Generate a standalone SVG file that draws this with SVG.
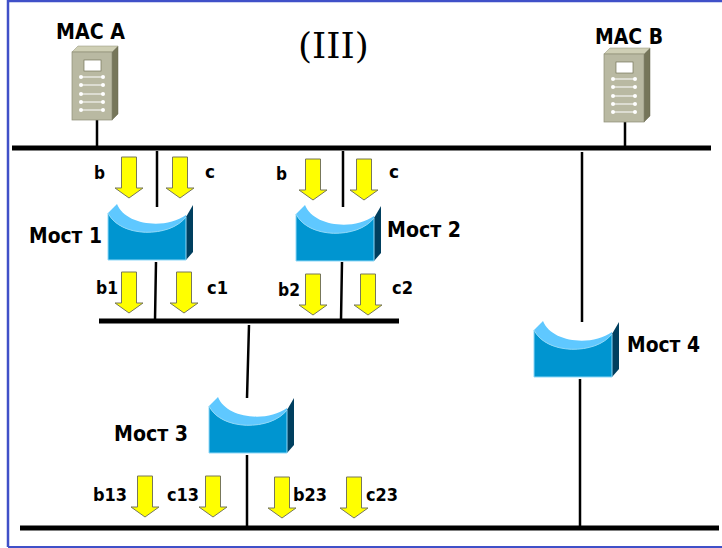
<svg xmlns="http://www.w3.org/2000/svg" width="722" height="548" viewBox="0 0 722 548">
<style>
.t{font-family:"DejaVu Sans",Verdana,sans-serif;font-weight:700;font-size:21px;fill:#000}
.s{font-size:18px}
.bus{stroke:#000;stroke-width:5;fill:none}
.w{stroke:#000;stroke-width:2.500;fill:none}
.a{fill:#ff0;stroke:#77775a;stroke-width:1}
</style>
<defs>
<path id="ar" class="a" d="M-7.500,0H7.500V31H14L0,41L-14,31H-7.500Z"/>
<g id="br">
<path d="M186,217L193,205V252L186,260Z" fill="#003f5f"/>
<path d="M108,213L117,204C125,225 165,230 186,215L186,217C170,238 120,238 108,213Z" fill="#5fc8ff"/>
<path d="M108,213C120,238 170,238 186,217V260H108Z" fill="#0095d0" stroke="#8fd8f8" stroke-width="1"/>
</g>
<g id="srv">
<path d="M40,6L46,0V68L40,74Z" fill="#76765a" stroke="#66664c" stroke-width="0.500"/>
<path d="M0,6L6,0H46L40,6Z" fill="#cfcfb5" stroke="#8e8e76" stroke-width="0.500"/>
<rect x="0" y="6" width="40" height="68" fill="#b9b9a2" stroke="#8e8e76" stroke-width="0.700"/>
<rect x="12" y="14" width="17" height="11" fill="#fff" stroke="#76765a" stroke-width="0.700"/>
<path d="M9,31H31M9,39H31M9,48H31M9,56H31M9,64H31" stroke="#fff" stroke-width="1.200" fill="none"/>
<g fill="#fff">
<circle cx="9" cy="31" r="2"/><circle cx="9" cy="39" r="2"/><circle cx="9" cy="48" r="2"/><circle cx="9" cy="56" r="2"/><circle cx="9" cy="64" r="2"/>
<circle cx="31" cy="31" r="2"/><circle cx="31" cy="39" r="2"/><circle cx="31" cy="48" r="2"/><circle cx="31" cy="56" r="2"/><circle cx="31" cy="64" r="2"/>
</g>
</g>
</defs>
<rect width="722" height="548" fill="#fff"/>
<path id="frame" d="M8,547V1H722" fill="none" stroke="#4050c8" stroke-width="2.500"/>
<path d="M8,547H722" fill="none" stroke="#4050c8" stroke-width="2"/>
<g id="connectors">
<path class="bus" d="M12,148H711M99,321H399M20,528H719"/>
<path class="w" d="M97,120V146M625,122V146M157,151V207M156,262L155,320M343,151V207M342,262L341,320M249,325L247,398M247,455V526M582,152V322M580,379V526"/>
</g>
<g id="mac-a"><use href="#srv" x="72" y="46"/><text class="t" x="56" y="39" textLength="69" lengthAdjust="spacingAndGlyphs">MAC A</text></g>
<g id="mac-b"><use href="#srv" x="604" y="48"/><text class="t" x="595" y="44" textLength="68" lengthAdjust="spacingAndGlyphs">MAC B</text></g>
<g id="title"><text x="298" y="57.500" font-family="'DejaVu Serif',serif" font-size="36">(III)</text></g>
<g id="bridge-1"><use href="#br"/><text class="t" x="29" y="243" textLength="73" lengthAdjust="spacingAndGlyphs">Мост 1</text></g>
<g id="bridge-2"><use href="#br" x="188" y="1"/><text class="t" x="387" y="237" textLength="74" lengthAdjust="spacingAndGlyphs">Мост 2</text></g>
<g id="bridge-3"><use href="#br" x="101" y="193"/><text class="t" x="114" y="441" textLength="74" lengthAdjust="spacingAndGlyphs">Мост 3</text></g>
<g id="bridge-4"><use href="#br" x="426" y="117"/><text class="t" x="627" y="352" textLength="73" lengthAdjust="spacingAndGlyphs">Мост 4</text></g>
<g id="arrows">
<use href="#ar" x="129" y="157"/><use href="#ar" x="180" y="157"/>
<use href="#ar" x="313" y="159"/><use href="#ar" x="364" y="159"/>
<use href="#ar" x="129" y="272"/><use href="#ar" x="184" y="272"/>
<use href="#ar" x="313" y="274"/><use href="#ar" x="368" y="274"/>
<use href="#ar" x="145" y="476"/><use href="#ar" x="213" y="476"/>
<use href="#ar" x="282" y="477"/><use href="#ar" x="354" y="477"/>
</g>
<g id="labels">
<text class="t s" x="94" y="179" textLength="11" lengthAdjust="spacingAndGlyphs">b</text><text class="t s" x="205" y="178" textLength="10" lengthAdjust="spacingAndGlyphs">c</text>
<text class="t s" x="276" y="180" textLength="11" lengthAdjust="spacingAndGlyphs">b</text><text class="t s" x="389" y="178" textLength="10" lengthAdjust="spacingAndGlyphs">c</text>
<text class="t s" x="96" y="294" textLength="22" lengthAdjust="spacingAndGlyphs">b1</text><text class="t s" x="207" y="294" textLength="21" lengthAdjust="spacingAndGlyphs">c1</text>
<text class="t s" x="278" y="296" textLength="22" lengthAdjust="spacingAndGlyphs">b2</text><text class="t s" x="392" y="294" textLength="21" lengthAdjust="spacingAndGlyphs">c2</text>
<text class="t s" x="93" y="501" textLength="34" lengthAdjust="spacingAndGlyphs">b13</text><text class="t s" x="167" y="501" textLength="32" lengthAdjust="spacingAndGlyphs">c13</text>
<text class="t s" x="293" y="501" textLength="34" lengthAdjust="spacingAndGlyphs">b23</text><text class="t s" x="366" y="501" textLength="32" lengthAdjust="spacingAndGlyphs">c23</text>
</g>
</svg>
